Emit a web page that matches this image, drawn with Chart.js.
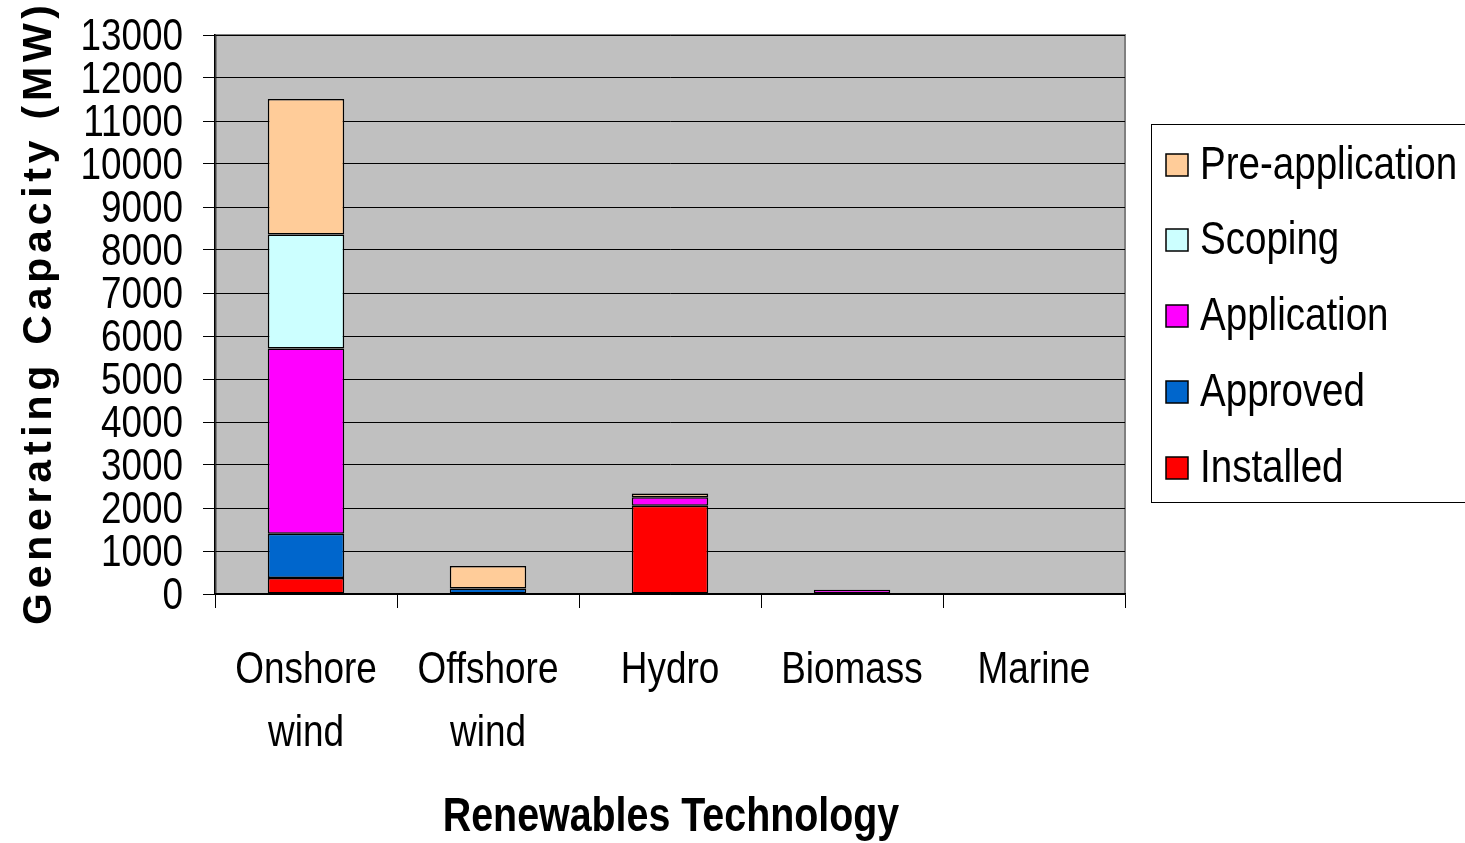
<!DOCTYPE html>
<html>
<head>
<meta charset="utf-8">
<script src="https://cdn.jsdelivr.net/npm/chart.js@4"></script>
<style>
  html, body { margin: 0; padding: 0; background: #fff; }
  #wrap { width: 1465px; height: 843px; position: relative; }
</style>
</head>
<body>
<div id="wrap"><canvas id="c"></canvas></div>
<script>
const categories = [['Onshore', 'wind'], ['Offshore', 'wind'], 'Hydro', 'Biomass', 'Marine'];
const installed      = [370, null, 2050, null, null];
const approved       = [1030, 130, null, null, null];
const application    = [4310, null, 200, 100, null];
const scoping        = [2650, null, null, null, null];
const preApplication = [3150, 520, 90, null, null];
const seriesNames = ['Installed', 'Approved', 'Application', 'Scoping', 'Pre-application'];
const yTitle = 'Generating Capacity (MW)';
const xTitle = 'Renewables Technology';

const FAMILY = '"Liberation Sans", Arial, sans-serif';
const SX = 0.82; // horizontal squeeze to mimic a narrow face
const colors = ['#FF0000', '#0066CC', '#FF00FF', '#CCFFFF', '#FFCC99'];
const values = [installed, approved, application, scoping, preApplication];

const datasets = values.map((v, i) => ({
  label: seriesNames[i],
  data: v,
  backgroundColor: colors[i],
  borderColor: '#000',
  borderWidth: 1.5,
  borderSkipped: false,
  categoryPercentage: 1.0,
  barPercentage: 0.42
}));

const origFillText = CanvasRenderingContext2D.prototype.fillText;

const decor = {
  id: 'decor',
  beforeInit(chart) {
    const ctx = chart.ctx;
    ctx.fillText = function (t, x, y, mw) {
      this.save();
      this.translate(x, y);
      this.scale(SX, 1);
      if (mw !== undefined) origFillText.call(this, t, 0, 0, mw / SX);
      else origFillText.call(this, t, 0, 0);
      this.restore();
    };
  },
  beforeDraw(chart) {
    const { ctx, chartArea: a } = chart;
    ctx.save();
    ctx.fillStyle = '#C0C0C0';
    ctx.fillRect(a.left, a.top, a.right - a.left, a.bottom - a.top);
    ctx.strokeStyle = '#808080';
    ctx.lineWidth = 2;
    ctx.strokeRect(a.left + 1, a.top, a.right - a.left - 1, a.bottom - a.top);
    ctx.restore();
  },
  afterDraw(chart) {
    const { ctx } = chart;
    ctx.save();
    // Y title, letter-spaced, rotated
    ctx.font = 'bold 41px ' + FAMILY;
    ctx.fillStyle = '#000';
    ctx.textBaseline = 'middle';
    ctx.textAlign = 'left';
    const chars = Array.from(yTitle);
    const widths = chars.map(ch => ctx.measureText(ch).width);
    const total = widths.reduce((s, w) => s + w, 0);
    const target = 620;
    const sp = (target - total) / (chars.length - 1);
    ctx.translate(40, 315);
    ctx.rotate(-Math.PI / 2);
    let x = -target / 2;
    chars.forEach((ch, i) => { origFillText.call(ctx, ch, x, 0); x += widths[i] + sp; });
    ctx.restore();

    // X title
    ctx.save();
    ctx.font = 'bold 48px ' + FAMILY;
    ctx.fillStyle = '#000';
    ctx.textAlign = 'center';
    ctx.textBaseline = 'middle';
    ctx.fillText(xTitle, 671, 818);
    ctx.restore();

    // Legend
    ctx.save();
    ctx.strokeStyle = '#000';
    ctx.lineWidth = 1;
    ctx.strokeRect(1151.5, 124.5, 400, 378);
    const ys = [165, 240, 316, 392, 468];
    const order = [4, 3, 2, 1, 0];
    ctx.font = '47px ' + FAMILY;
    ctx.textBaseline = 'middle';
    ctx.textAlign = 'left';
    order.forEach((di, k) => {
      const y = ys[k];
      ctx.fillStyle = colors[di];
      ctx.fillRect(1166, y - 11, 22, 22);
      ctx.lineWidth = 1.5;
      ctx.strokeStyle = '#000';
      ctx.strokeRect(1166, y - 11, 22, 22);
      ctx.fillStyle = '#000';
      ctx.fillText(seriesNames[di], 1200, y + 1);
    });
    ctx.restore();
  }
};

new Chart(document.getElementById('c'), {
  type: 'bar',
  data: { labels: categories, datasets },
  options: {
    responsive: true,
    maintainAspectRatio: false,
    animation: false,
    devicePixelRatio: 1,
    layout: { padding: { left: 0, top: 35, right: 340, bottom: 0 } },
    plugins: { legend: { display: false }, tooltip: { enabled: false } },
    scales: {
      x: {
        stacked: true,
        afterFit(s) { s.height = 249; s.paddingLeft = 0; s.paddingRight = 0; },
        grid: { offset: true, drawOnChartArea: false, tickLength: 14, color: '#000', lineWidth: 1 },
        border: { display: true, color: '#000', width: 1.5 },
        ticks: { color: '#000', padding: 32, font: { family: FAMILY, size: 45, lineHeight: 1.38 }, maxRotation: 0, autoSkip: false }
      },
      y: {
        stacked: true,
        min: 0, max: 13000,
        afterFit(s) { s.width = 215; s.paddingTop = 0; s.paddingBottom = 0; },
        grid: { color: '#000', lineWidth: 1, tickLength: 12 },
        border: { display: true, color: '#000', width: 1.5 },
        ticks: { stepSize: 1000, color: '#000', padding: 20, labelOffset: 3, font: { family: FAMILY, size: 45 }, autoSkip: false,
                 callback: (v) => String(v) }
      }
    }
  },
  plugins: [decor]
});
</script>
</body>
</html>
